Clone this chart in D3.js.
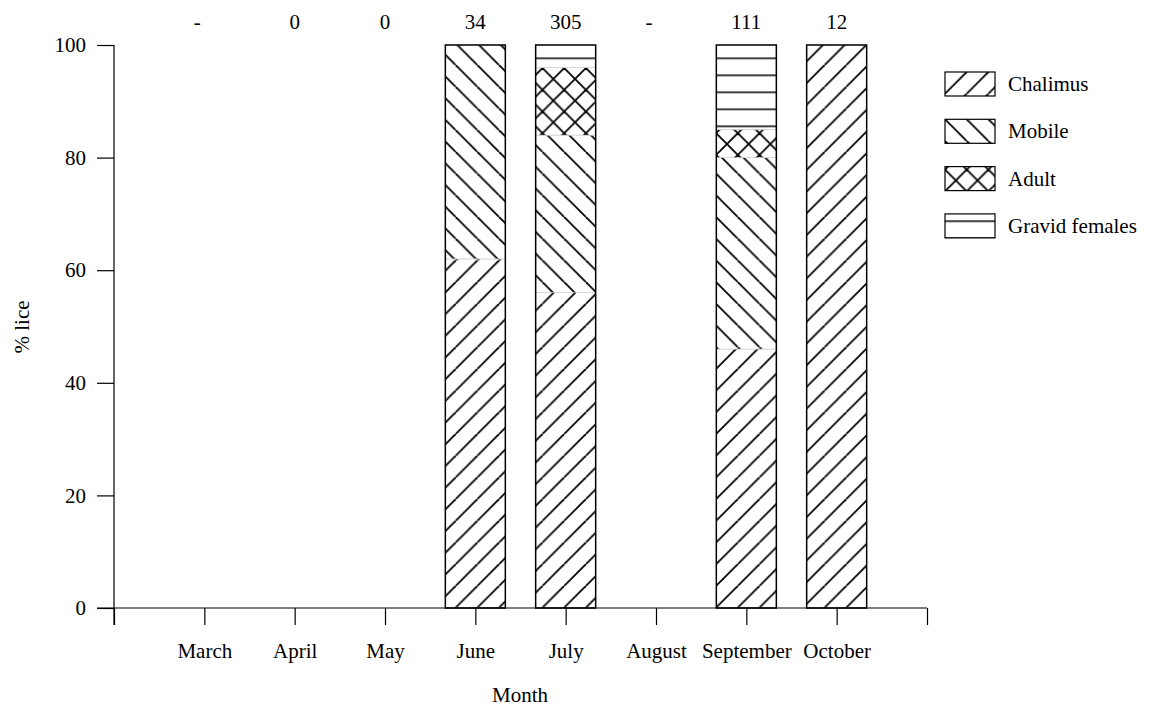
<!DOCTYPE html>
<html>
<head>
<meta charset="utf-8">
<script src="https://cdn.jsdelivr.net/npm/d3@7"></script>
<style>
  html, body { margin: 0; padding: 0; background: #fff; }
  svg text { font-family: "Liberation Serif", "Times New Roman", serif; fill: #000; }
</style>
</head>
<body>
<svg id="chart" width="1151" height="709"></svg>
<script>
// ---- data ----
const months = ["March", "April", "May", "June", "July", "August", "September", "October"];
const counts = ["-", "0", "0", "34", "305", "-", "111", "12"];
const chalimus = [0, 0, 0, 62, 56, 0, 46, 100];
const mobile   = [0, 0, 0, 38, 28, 0, 34, 0];
const adult    = [0, 0, 0, 0, 12, 0, 5, 0];
const gravid   = [0, 0, 0, 0, 4, 0, 15, 0];
const stages = ["Chalimus", "Mobile", "Adult", "Gravid females"];
const yTicks = [0, 20, 40, 60, 80, 100];

// ---- setup ----
const svg = d3.select("#chart");
const x = d3.scaleLinear().domain([0, months.length + 1]).range([114, 927]);
const y = d3.scaleLinear().domain([0, 100]).range([608, 45]);
const barW = 60;
const FS = 21;

// patterns
const defs = svg.append("defs");
const P = 21.7;
const patId = ["pChal", "pMob", "pAdult", "pGrav"];
function diag(pat, dir) {
  if (dir === 1) {
    pat.append("line").attr("x1", 0).attr("y1", P).attr("x2", P).attr("y2", 0);
    pat.append("line").attr("x1", -P).attr("y1", P).attr("x2", 0).attr("y2", 0);
    pat.append("line").attr("x1", P).attr("y1", P).attr("x2", 2 * P).attr("y2", 0);
  } else {
    pat.append("line").attr("x1", 0).attr("y1", 0).attr("x2", P).attr("y2", P);
    pat.append("line").attr("x1", -P).attr("y1", 0).attr("x2", 0).attr("y2", P);
    pat.append("line").attr("x1", P).attr("y1", 0).attr("x2", 2 * P).attr("y2", P);
  }
}
function mkPat(id, w, h, ty) {
  const p = defs.append("pattern").attr("id", id).attr("patternUnits", "userSpaceOnUse")
    .attr("width", w).attr("height", h).attr("patternTransform", `translate(0,${ty})`);
  p.append("rect").attr("width", w).attr("height", h).attr("fill", "#fff");
  return p.append("g").attr("stroke", "#000").attr("stroke-width", 1.8);
}
diag(mkPat("pChal", P, P, 0), 1);
diag(mkPat("pMob", P, P, 0), -1);
{ const g = mkPat("pAdult", P, P, 3); diag(g, 1); diag(g, -1); }
{ const g = mkPat("pGrav", 40, 17, 57.5 - 17 * 3);
  g.append("line").attr("x1", 0).attr("x2", 40).attr("y1", 0.5).attr("y2", 0.5); }

// ---- stacked bars ----
const rows = months.map((m, i) => ({
  i, month: m,
  "Chalimus": chalimus[i], "Mobile": mobile[i], "Adult": adult[i], "Gravid females": gravid[i]
}));
const stack = d3.stack().keys(stages)(rows);
const total = r => stages.reduce((s, k) => s + r[k], 0);

const barsG = svg.append("g");
stack.forEach((layer, li) => {
  barsG.append("g").selectAll("rect")
    .data(layer.filter(d => d[1] - d[0] > 0))
    .join("rect")
    .attr("x", d => x(d.data.i + 1) - barW / 2)
    .attr("width", barW)
    .attr("y", d => y(d[1]))
    .attr("height", d => y(d[0]) - y(d[1]))
    .attr("fill", `url(#${patId[li]})`)
    .attr("stroke", "#c8c8c8")
    .attr("stroke-width", 0.6);
});
barsG.append("g").selectAll("rect")
  .data(rows.filter(r => total(r) > 0))
  .join("rect")
  .attr("x", d => x(d.i + 1) - barW / 2)
  .attr("width", barW)
  .attr("y", d => y(total(d)))
  .attr("height", d => y(0) - y(total(d)))
  .attr("fill", "none")
  .attr("stroke", "#000")
  .attr("stroke-width", 1.5);

// ---- axes ----
const yAxis = d3.axisLeft(y).tickValues(yTicks).tickSize(17).tickPadding(11).tickFormat(d3.format("d"));
const gy = svg.append("g").attr("transform", `translate(${x(0)},0)`).call(yAxis);
gy.select(".domain").remove();
gy.append("line").attr("x1", 0).attr("x2", 0).attr("y1", y(100)).attr("y2", y(0) + 17)
  .attr("stroke", "#000").attr("stroke-width", 1.2);
gy.selectAll(".tick line").attr("stroke", "#000").attr("stroke-width", 1.2);
gy.selectAll(".tick text").style("font-size", FS + "px").style("font-family", "Liberation Serif").attr("fill", "#000");

const xTickVals = d3.range(0, months.length + 2);
const xAxis = d3.axisBottom(x).tickValues(xTickVals).tickSize(17).tickPadding(18)
  .tickFormat(d => (d >= 1 && d <= months.length) ? months[d - 1] : "");
const gx = svg.append("g").attr("transform", `translate(0,${y(0)})`).call(xAxis);
gx.select(".domain").remove();
gx.append("line").attr("x1", x(0) - 17).attr("x2", x(months.length + 1)).attr("y1", 0).attr("y2", 0)
  .attr("stroke", "#000").attr("stroke-width", 1.2);
gx.selectAll(".tick line").attr("stroke", "#000").attr("stroke-width", 1.2);
gx.selectAll(".tick text").style("font-size", FS + "px").style("font-family", "Liberation Serif").attr("fill", "#000");

// counts on top
svg.append("g").selectAll("text")
  .data(counts)
  .join("text")
  .attr("x", (d, i) => x(i + 1) - (d === "-" ? 7 : 0))
  .attr("y", 29)
  .attr("text-anchor", "middle")
  .style("font-size", FS + "px")
  .text(d => d);

// axis titles
svg.append("text").attr("x", 520).attr("y", 702).attr("text-anchor", "middle")
  .style("font-size", FS + "px").text("Month");
svg.append("text").attr("transform", "translate(29,327) rotate(-90)").attr("text-anchor", "middle")
  .style("font-size", FS + "px").text("% lice");

// ---- legend ----
const lg = svg.append("g").selectAll("g")
  .data(stages)
  .join("g")
  .attr("transform", (d, i) => `translate(945,${72 + i * 47.3})`);
lg.append("rect").attr("width", 50).attr("height", 24)
  .attr("fill", (d, i) => `url(#${patId[i]})`)
  .attr("stroke", "#000").attr("stroke-width", 1.2);
lg.append("text").attr("x", 63).attr("y", 19).style("font-size", FS + "px").text(d => d);
</script>
</body>
</html>
